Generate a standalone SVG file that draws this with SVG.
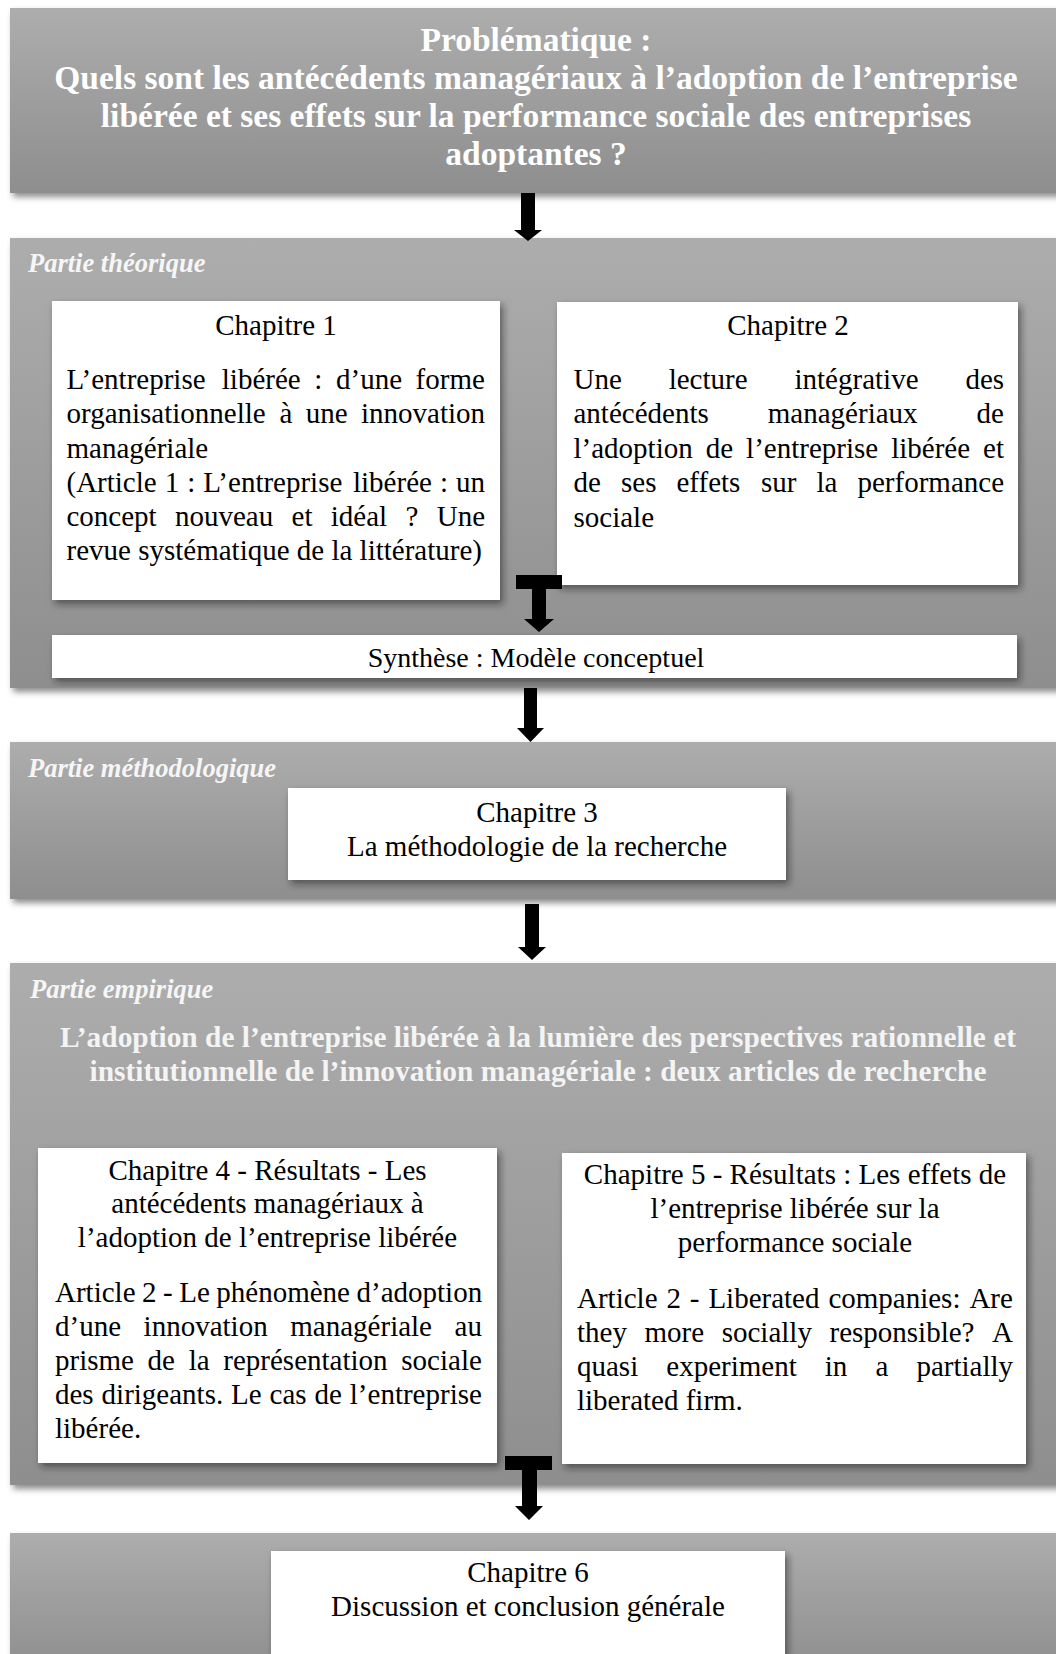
<svg xmlns="http://www.w3.org/2000/svg" width="1056" height="1654" viewBox="0 0 1056 1654">
<defs>
<linearGradient id="gray" x1="0" y1="0" x2="0" y2="1">
<stop offset="0" stop-color="#adadad"/>
<stop offset="1" stop-color="#8e8e8e"/>
</linearGradient>
<filter id="sh" x="-5%" y="-5%" width="115%" height="125%">
<feDropShadow dx="3" dy="4" stdDeviation="3" flood-color="#000" flood-opacity="0.45"/>
</filter>
<filter id="shw" x="-5%" y="-5%" width="115%" height="125%">
<feDropShadow dx="3" dy="4" stdDeviation="3.5" flood-color="#202020" flood-opacity="0.55"/>
</filter>
</defs>
<style>
.sec{fill:url(#gray);filter:url(#sh)}
.box{fill:#ffffff;filter:url(#shw)}
text{font-family:"Liberation Serif","Times New Roman",serif}
.h{font-weight:bold;fill:#ffffff;text-anchor:middle}
.h1{font-size:33.5px}
.h2{font-size:29.4px;fill:#f4f4f4}
.lab{font-weight:bold;font-style:italic;font-size:26.5px;fill:#f6f6f6}
.t{font-size:29px;fill:#000000}
.s{font-size:28px}
.c{text-anchor:middle}
.arr{fill:#000000}
</style>
<rect width="1056" height="1654" fill="#ffffff"/>

<g id="problematique">
<rect class="sec" x="10" y="8" width="1060" height="185"/>
<text class="h h1" x="536"><tspan x="536" y="51">Problématique :</tspan><tspan x="536" y="89">Quels sont les antécédents managériaux à l’adoption de l’entreprise</tspan><tspan x="536" y="127">libérée et ses effets sur la performance sociale des entreprises</tspan><tspan x="536" y="165">adoptantes ?</tspan></text>
</g>

<g id="partie-theorique">
<rect class="sec" x="10" y="238" width="1060" height="450"/>
<text class="lab" x="28" y="272">Partie théorique</text>
</g>

<g id="chapitre1">
<rect class="box" x="52" y="301" width="448" height="299"/>
<text class="t c" x="276" y="335">Chapitre 1</text>
<text class="t" y="389"><tspan x="66.5">L’entreprise</tspan><tspan x="221.8">libérée</tspan><tspan x="314.3">:</tspan><tspan x="336">d’une</tspan><tspan x="415.6">forme</tspan></text>
<text class="t" y="423"><tspan x="66.5">organisationnelle</tspan><tspan x="279.6">à</tspan><tspan x="305.8">une</tspan><tspan x="361">innovation</tspan></text>
<text class="t" x="66.5" y="458">managériale</text>
<text class="t" y="492"><tspan x="66.5">(Article</tspan><tspan x="164.7">1</tspan><tspan x="187.2">:</tspan><tspan x="203.3">L’entreprise</tspan><tspan x="353">libérée</tspan><tspan x="439.9">:</tspan><tspan x="456">un</tspan></text>
<text class="t" y="526"><tspan x="66.5">concept</tspan><tspan x="175">nouveau</tspan><tspan x="291.6">et</tspan><tspan x="330.8">idéal</tspan><tspan x="405.5">?</tspan><tspan x="436.7">Une</tspan></text>
<text class="t" x="66.5" y="560">revue systématique de la littérature)</text>
</g>

<g id="chapitre2">
<rect class="box" x="557" y="302" width="461" height="283"/>
<text class="t c" x="788" y="335">Chapitre 2</text>
<text class="t" y="389"><tspan x="573.5">Une</tspan><tspan x="668.7">lecture</tspan><tspan x="794.5">intégrative</tspan><tspan x="965.4">des</tspan></text>
<text class="t" y="423"><tspan x="573.5">antécédents</tspan><tspan x="767.8">managériaux</tspan><tspan x="976.6">de</tspan></text>
<text class="t" y="458"><tspan x="573.5">l’adoption</tspan><tspan x="705.7">de</tspan><tspan x="746.1">l’entreprise</tspan><tspan x="891.2">libérée</tspan><tspan x="983.1">et</tspan></text>
<text class="t" y="492"><tspan x="573.5">de</tspan><tspan x="621">ses</tspan><tspan x="676.5">effets</tspan><tspan x="761">sur</tspan><tspan x="816.5">la</tspan><tspan x="857.5">performance</tspan></text>
<text class="t" x="573.5" y="527">sociale</text>
</g>

<g id="synthese">
<rect class="box" x="52" y="635" width="965" height="43"/>
<text class="t s c" x="536" y="667">Synthèse : Modèle conceptuel</text>
</g>

<g id="partie-methodologique">
<rect class="sec" x="10" y="742" width="1060" height="157"/>
<text class="lab" x="28" y="777">Partie méthodologique</text>
</g>

<g id="chapitre3">
<rect class="box" x="288" y="788" width="498" height="92"/>
<text class="t c" x="537" y="822">Chapitre 3</text>
<text class="t c" x="537" y="856">La méthodologie de la recherche</text>
</g>

<g id="partie-empirique">
<rect class="sec" x="10" y="963" width="1060" height="522"/>
<text class="lab" x="30" y="998">Partie empirique</text>
<text class="h h2"><tspan x="538" y="1047">L’adoption de l’entreprise libérée à la lumière des perspectives rationnelle et</tspan><tspan x="538" y="1081">institutionnelle de l’innovation managériale : deux articles de recherche</tspan></text>
</g>

<g id="chapitre4">
<rect class="box" x="38" y="1148" width="459" height="315"/>
<text class="t c"><tspan x="267.5" y="1180">Chapitre 4 - Résultats - Les</tspan><tspan x="267.5" y="1213">antécédents managériaux à</tspan><tspan x="267.5" y="1247">l’adoption de l’entreprise libérée</tspan></text>
<text class="t" y="1302"><tspan x="55">Article</tspan><tspan x="142">2</tspan><tspan x="163">-</tspan><tspan x="179.2">Le</tspan><tspan x="216.3">phénomène</tspan><tspan x="356.5">d’adoption</tspan></text>
<text class="t" y="1336"><tspan x="55">d’une</tspan><tspan x="143.6">innovation</tspan><tspan x="290.3">managériale</tspan><tspan x="454.6">au</tspan></text>
<text class="t" y="1370"><tspan x="55">prisme</tspan><tspan x="147.6">de</tspan><tspan x="188.7">la</tspan><tspan x="223.3">représentation</tspan><tspan x="401.3">sociale</tspan></text>
<text class="t" y="1404"><tspan x="55">des</tspan><tspan x="101.6">dirigeants.</tspan><tspan x="231.1">Le</tspan><tspan x="269.6">cas</tspan><tspan x="314.5">de</tspan><tspan x="349.8">l’entreprise</tspan></text>
<text class="t" x="55" y="1438">libérée.</text>
</g>

<g id="chapitre5">
<rect class="box" x="562" y="1153" width="464" height="311"/>
<text class="t c"><tspan x="795" y="1184">Chapitre 5 - Résultats : Les effets de</tspan><tspan x="795" y="1218">l’entreprise libérée sur la</tspan><tspan x="795" y="1252">performance sociale</tspan></text>
<text class="t" y="1308"><tspan x="577">Article</tspan><tspan x="666.4">2</tspan><tspan x="689.8">-</tspan><tspan x="708.4">Liberated</tspan><tspan x="828.4">companies:</tspan><tspan x="969.4">Are</tspan></text>
<text class="t" y="1342"><tspan x="577">they</tspan><tspan x="644.5">more</tspan><tspan x="721.7">socially</tspan><tspan x="829.5">responsible?</tspan><tspan x="992.1">A</tspan></text>
<text class="t" y="1376"><tspan x="577">quasi</tspan><tspan x="666.3">experiment</tspan><tspan x="824.8">in</tspan><tspan x="875.4">a</tspan><tspan x="916.4">partially</tspan></text>
<text class="t" x="577" y="1410">liberated firm.</text>
</g>

<g id="partie-conclusion">
<rect class="sec" x="10" y="1533" width="1060" height="140"/>
</g>

<g id="chapitre6">
<rect class="box" x="271" y="1551" width="514" height="110"/>
<text class="t c" x="528" y="1582">Chapitre 6</text>
<text class="t c" x="528" y="1616">Discussion et conclusion générale</text>
</g>

<g id="connectors">
<path class="arr" d="M521,193 H535 V230 H542 L528,241 L514,230 H521 Z"/>
<path class="arr" d="M516,575 H562 V589 H546 V619 H554 L539,632 L524,619 H532 V589 H516 Z"/>
<path class="arr" d="M524,688 H537 V728 H544 L530.5,742 L517,728 H524 Z"/>
<path class="arr" d="M525,904 H539 V947 H546 L532,960 L518,947 H525 Z"/>
<path class="arr" d="M505,1456 H552 V1470 H537 V1506 H543 L529,1520 L515,1506 H522 V1470 H505 Z"/>
</g>
</svg>
